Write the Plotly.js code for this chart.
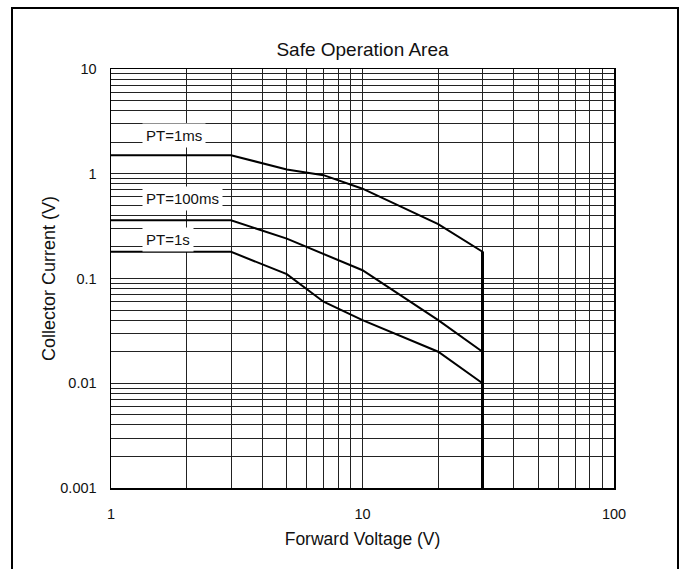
<!DOCTYPE html>
<html>
<head>
<meta charset="utf-8">
<script src="https://cdn.plot.ly/plotly-3.0.1.min.js"></script>
<style>html,body{margin:0;padding:0;background:#fff;}#chart{width:684px;height:569px;}</style>
</head>
<body>
<div id="chart"></div>
<script>
// Data
const pt1msX = [1, 3, 5, 7, 10, 20, 30, 30];
const pt1msY = [1.5, 1.5, 1.1, 0.97, 0.72, 0.33, 0.18, 0.001];
const pt100msX = [1, 3, 5, 7, 10, 20, 30];
const pt100msY = [0.36, 0.36, 0.24, 0.17, 0.12, 0.04, 0.02];
const pt1sX = [1, 3, 5, 7, 10, 20, 30];
const pt1sY = [0.18, 0.18, 0.11, 0.06, 0.04, 0.02, 0.01];
const boundaryX = [30, 30];
const boundaryY = [0.18, 0.001];
const seriesLabels = ['PT=1ms', 'PT=100ms', 'PT=1s'];
const xTickVals = [1,2,3,4,5,6,7,8,9,10,20,30,40,50,60,70,80,90,100];
const xTickText = ['1','','','','','','','','','10','','','','','','','','','100'];
const yTickVals = [0.001,0.002,0.003,0.004,0.005,0.006,0.007,0.008,0.009,
                   0.01,0.02,0.03,0.04,0.05,0.06,0.07,0.08,0.09,
                   0.1,0.2,0.3,0.4,0.5,0.6,0.7,0.8,0.9,
                   1,2,3,4,5,6,7,8,9,10];
const yTickText = yTickVals.map(v => ([0.001,0.01,0.1,1,10].includes(v) ? String(v) : ''));

const FONT = 'Liberation Sans, Arial, Helvetica, sans-serif';
const lineStyle = {color: '#000', width: 2};

const traces = [
  {x: pt1msX, y: pt1msY, mode: 'lines', line: lineStyle, name: seriesLabels[0], hoverinfo: 'skip'},
  {x: pt100msX, y: pt100msY, mode: 'lines', line: lineStyle, name: seriesLabels[1], hoverinfo: 'skip'},
  {x: pt1sX, y: pt1sY, mode: 'lines', line: lineStyle, name: seriesLabels[2], hoverinfo: 'skip'},
  {x: boundaryX, y: boundaryY, mode: 'lines', line: {color: '#000', width: 3}, showlegend: false, hoverinfo: 'skip'}
];

const axisCommon = {
  type: 'log',
  showgrid: true,
  gridcolor: '#222',
  gridwidth: 1,
  showline: true,
  mirror: true,
  linecolor: '#000',
  linewidth: 1.5,
  zeroline: false,
  ticks: '',
  tickfont: {family: FONT, size: 14.5, color: '#111'}
};

const layout = {
  width: 684,
  height: 569,
  margin: {l: 111, r: 70, t: 69, b: 81},
  paper_bgcolor: '#fff',
  plot_bgcolor: '#fff',
  showlegend: false,
  font: {family: FONT, color: '#111'},
  title: {
    text: 'Safe Operation Area',
    font: {family: FONT, size: 19, color: '#111'},
    xref: 'paper', x: 0.5, xanchor: 'center',
    yref: 'container', y: 1 - 49/569, yanchor: 'middle'
  },
  xaxis: Object.assign({}, axisCommon, {
    range: [0, 2],
    tickmode: 'array',
    tickvals: xTickVals,
    ticktext: xTickText,
    ticklabelstandoff: 12,
    title: {text: 'Forward Voltage (V)', font: {family: FONT, size: 17.5, color: '#111'}, standoff: 12}
  }),
  yaxis: Object.assign({}, axisCommon, {
    range: [-3, 1],
    tickmode: 'array',
    tickvals: yTickVals,
    ticktext: yTickText,
    ticklabelstandoff: 10,
    title: {text: 'Collector Current (V)', font: {family: FONT, size: 18, color: '#111'}, standoff: 0}
  }),
  annotations: [
    {text: seriesLabels[0], xref: 'x', yref: 'y', x: 0.122, y: Math.log10(2.3), xanchor: 'left', yanchor: 'middle',
     showarrow: false, bgcolor: '#fff', borderpad: 3, font: {family: FONT, size: 15, color: '#111'}},
    {text: seriesLabels[1], xref: 'x', yref: 'y', x: 0.122, y: Math.log10(0.575), xanchor: 'left', yanchor: 'middle',
     showarrow: false, bgcolor: '#fff', borderpad: 3, font: {family: FONT, size: 15, color: '#111'}},
    {text: seriesLabels[2], xref: 'x', yref: 'y', x: 0.122, y: Math.log10(0.238), xanchor: 'left', yanchor: 'middle',
     showarrow: false, bgcolor: '#fff', borderpad: 3, font: {family: FONT, size: 15, color: '#111'}}
  ],
  shapes: [
    {type: 'rect', xref: 'paper', yref: 'paper', layer: 'above',
     x0: (12 - 111) / 503, x1: (678 - 111) / 503,
     y0: (488 - 575) / 419, y1: (488 - 8) / 419,
     line: {color: '#000', width: 2}, fillcolor: 'rgba(0,0,0,0)'}
  ]
};

Plotly.newPlot('chart', traces, layout, {staticPlot: true, displayModeBar: false});
</script>
</body>
</html>
